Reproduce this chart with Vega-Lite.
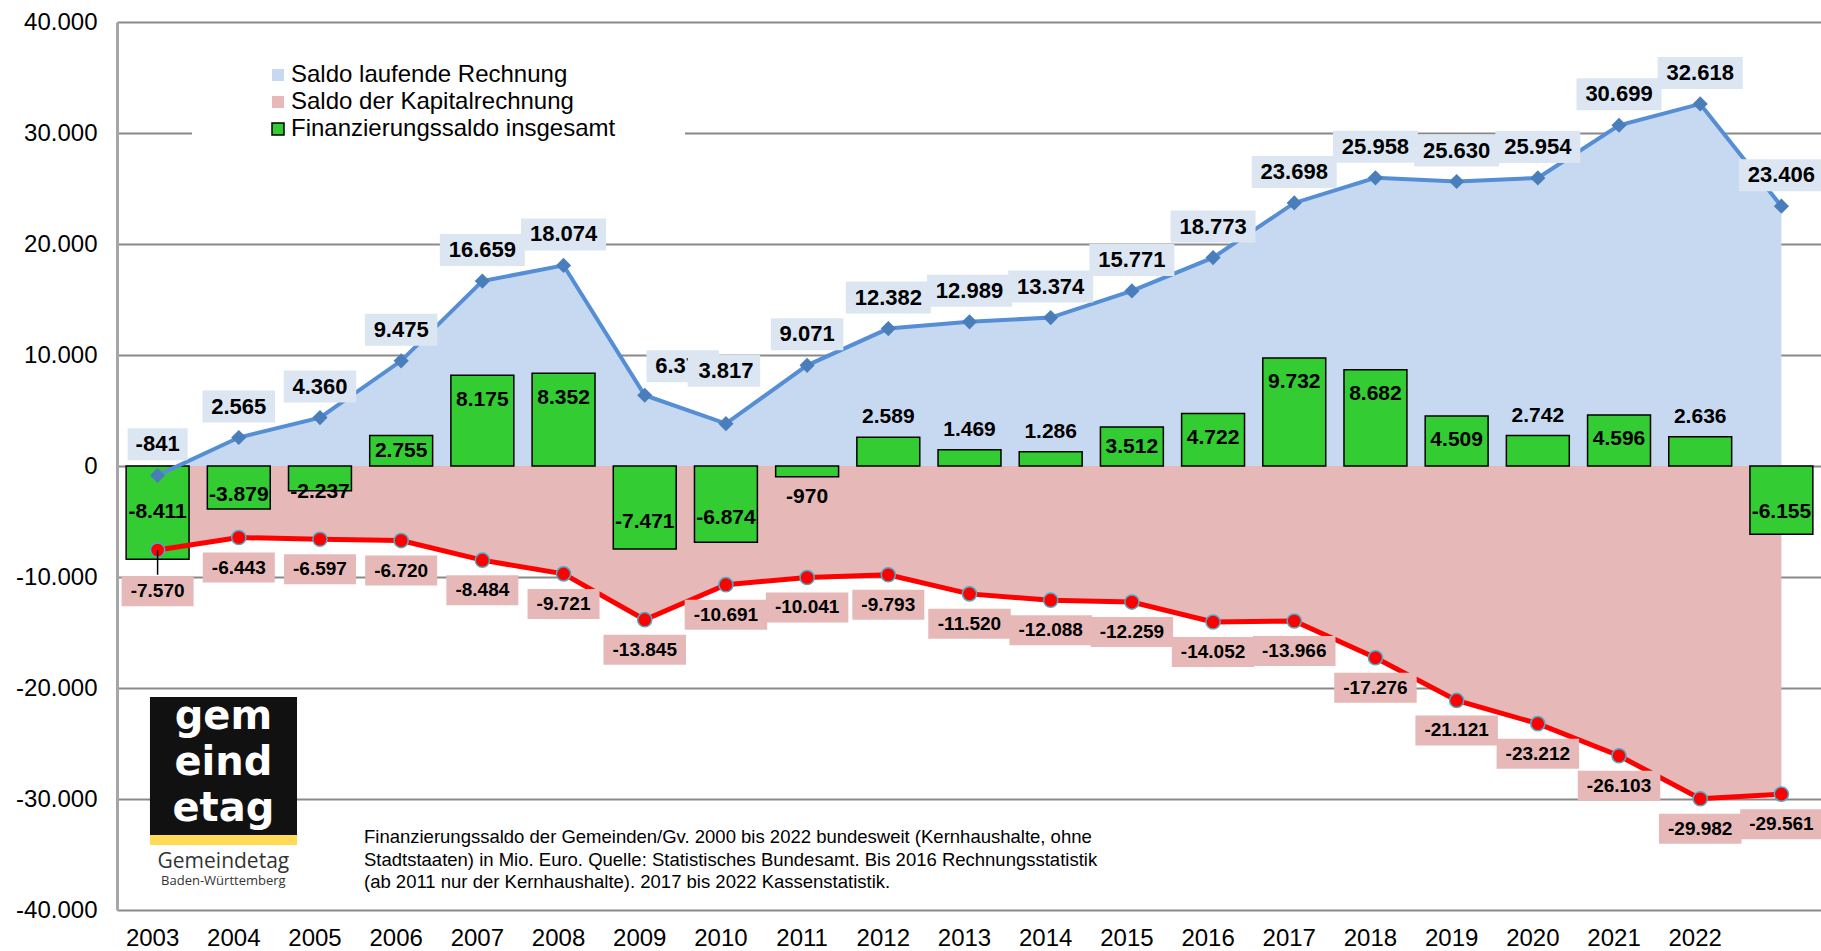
{
  "$schema": "https://vega.github.io/schema/vega-lite/v6.json",
  "width": 1705,
  "height": 888,
  "autosize": {"type": "none"},
  "padding": {"left": 117, "top": 22, "right": 0, "bottom": 41},
  "config": {
    "view": {"stroke": null},
    "font": "Liberation Sans"
  },
  "datasets": {
    "main": [
      {"year": "2003", "lauf": -841, "kap": -7570, "fin": -8411},
      {"year": "2004", "lauf": 2565, "kap": -6443, "fin": -3879},
      {"year": "2005", "lauf": 4360, "kap": -6597, "fin": -2237},
      {"year": "2006", "lauf": 9475, "kap": -6720, "fin": 2755},
      {"year": "2007", "lauf": 16659, "kap": -8484, "fin": 8175},
      {"year": "2008", "lauf": 18074, "kap": -9721, "fin": 8352},
      {"year": "2009", "lauf": 6374, "kap": -13845, "fin": -7471},
      {"year": "2010", "lauf": 3817, "kap": -10691, "fin": -6874},
      {"year": "2011", "lauf": 9071, "kap": -10041, "fin": -970},
      {"year": "2012", "lauf": 12382, "kap": -9793, "fin": 2589},
      {"year": "2013", "lauf": 12989, "kap": -11520, "fin": 1469},
      {"year": "2014", "lauf": 13374, "kap": -12088, "fin": 1286},
      {"year": "2015", "lauf": 15771, "kap": -12259, "fin": 3512},
      {"year": "2016", "lauf": 18773, "kap": -14052, "fin": 4722},
      {"year": "2017", "lauf": 23698, "kap": -13966, "fin": 9732},
      {"year": "2018", "lauf": 25958, "kap": -17276, "fin": 8682},
      {"year": "2019", "lauf": 25630, "kap": -21121, "fin": 4509},
      {"year": "2020", "lauf": 25954, "kap": -23212, "fin": 2742},
      {"year": "2021", "lauf": 30699, "kap": -26103, "fin": 4596},
      {"year": "2022", "lauf": 32618, "kap": -29982, "fin": 2636},
      {"year": "2023", "lauf": 23406, "kap": -29561, "fin": -6155}
    ]
  },
  "layer": [
    {
      "data": {"name": "main"},
      "transform": [
        {"calculate": "(datum.lauf < 0 ? '-' : '') + replace(format(abs(datum.lauf), ','), ',', '.')", "as": "lbL"},
        {"calculate": "(datum.kap < 0 ? '-' : '') + replace(format(abs(datum.kap), ','), ',', '.')", "as": "lbK"},
        {"calculate": "(datum.fin < 0 ? '-' : '') + replace(format(abs(datum.fin), ','), ',', '.')", "as": "lbF"},
        {"calculate": "length(datum.lbL)*12.5+10", "as": "wL"},
        {"calculate": "format(32/datum.wL, '.4f')", "as": "rL"},
        {"calculate": "'M-1,-'+datum.rL+'L1,-'+datum.rL+'L1,'+datum.rL+'L-1,'+datum.rL+'Z'", "as": "sL"},
        {"calculate": "datum.wL*datum.wL", "as": "zL"},
        {"calculate": "length(datum.lbK)*10.5+9", "as": "wK"},
        {"calculate": "format(30/datum.wK, '.4f')", "as": "rK"},
        {"calculate": "'M-1,-'+datum.rK+'L1,-'+datum.rK+'L1,'+datum.rK+'L-1,'+datum.rK+'Z'", "as": "sK"},
        {"calculate": "datum.wK*datum.wK", "as": "zK"},
        {"calculate": "datum.year == '2003' ? datum.kap - 1000 : datum.kap", "as": "ky"},
        {"calculate": "datum.fin >= 2750 ? max(datum.fin/2, datum.fin-2200) : (datum.fin > 0 ? datum.fin+1800 : (datum.fin > -1500 ? datum.fin-1800 : (datum.fin > -3000 ? datum.fin-100 : (datum.year == '2003' ? datum.fin*0.49 : datum.fin*0.68))))", "as": "fy"}
      ],
      "encoding": {
        "x": {
          "field": "year", "type": "ordinal",
          "scale": {"paddingInner": 0.225, "paddingOuter": 0.1125},
          "axis": {"orient": "bottom", "title": null, "domain": false, "ticks": false, "grid": false, "labelAngle": 0, "labelFontSize": 24, "labelColor": "black", "labelPadding": 16, "labelOffset": -5, "labelExpr": "datum.value == '2023' ? '' : datum.label"}
        }
      },
      "layer": [
        {
          "mark": {"type": "area", "opacity": 1},
          "encoding": {
            "y": {
              "field": "lauf", "type": "quantitative", "title": null,
              "scale": {"domain": [-40000, 40000], "nice": false},
              "axis": {"orient": "left", "title": null, "values": [-40000, -30000, -20000, -10000, 0, 10000, 20000, 30000, 40000], "labelExpr": "(datum.value < 0 ? '-' : '') + replace(format(abs(datum.value), ','), ',', '.')", "grid": true, "gridColor": "#898989", "gridWidth": 2, "domainColor": "#A6A6A6", "domainWidth": 3, "ticks": false, "labelFontSize": 24, "labelColor": "black", "labelPadding": 20}
            },
            "color": {
              "datum": "Saldo laufende Rechnung", "type": "nominal",
              "scale": {"domain": ["Saldo laufende Rechnung", "Saldo der Kapitalrechnung", "Finanzierungssaldo insgesamt"], "range": ["#C6D9F1", "#E6B9B8", "#33CC33"]},
              "legend": {
                "orient": "none", "legendX": 149, "legendY": 41, "title": null, "padding": 0,
                "symbolType": "square", "symbolSize": 144, "symbolOpacity": 1, "symbolStrokeWidth": 0,
                "labelFontSize": 24, "labelFont": "Liberation Sans", "labelColor": "black", "labelLimit": 600,
                "rowPadding": 3, "labelOffset": 1,
                "encode": {"symbols": {"update": {"stroke": {"signal": "datum.value === 'Finanzierungssaldo insgesamt' ? 'black' : 'transparent'"}, "strokeWidth": {"value": 1.5}}}}
              }
            }
          }
        },
        {
          "mark": {"type": "area", "opacity": 1},
          "encoding": {
            "y": {"field": "kap", "type": "quantitative", "title": null},
            "color": {"datum": "Saldo der Kapitalrechnung", "type": "nominal"}
          }
        },
        {
          "mark": {"type": "rule", "color": "#808080", "strokeWidth": 3.5},
          "encoding": {"y": {"datum": 0, "type": "quantitative"}}
        },
        {
          "mark": {"type": "bar", "stroke": "black", "strokeWidth": 1.5, "opacity": 1},
          "encoding": {
            "y": {"field": "fin", "type": "quantitative", "title": null},
            "color": {"datum": "Finanzierungssaldo insgesamt", "type": "nominal"}
          }
        },
        {
          "mark": {"type": "line", "color": "#558ED5", "strokeWidth": 4},
          "encoding": {"y": {"field": "lauf", "type": "quantitative", "title": null}}
        },
        {
          "mark": {"type": "point", "shape": "diamond", "size": 230, "filled": true, "color": "#4A7EBB", "opacity": 1},
          "encoding": {"y": {"field": "lauf", "type": "quantitative", "title": null}}
        },
        {
          "mark": {"type": "line", "color": "#FF0000", "strokeWidth": 5},
          "encoding": {"y": {"field": "kap", "type": "quantitative", "title": null}}
        },
        {
          "mark": {"type": "point", "shape": "circle", "size": 200, "filled": true, "fill": "#FF0000", "stroke": "#4BACC6", "strokeWidth": 1.5, "opacity": 1},
          "encoding": {"y": {"field": "kap", "type": "quantitative", "title": null}}
        },
        {
          "transform": [{"filter": "datum.year == '2003'"}],
          "mark": {"type": "rule", "color": "black", "strokeWidth": 1.5},
          "encoding": {"y": {"field": "kap", "type": "quantitative", "title": null}, "y2": {"datum": -9800}}
        },
        {
          "transform": [{"filter": "datum.year != '2009' && datum.year != '2010'"}],
          "mark": {"type": "point", "filled": true, "fill": "#DCE6F2", "opacity": 1, "strokeWidth": 0, "yOffset": -31},
          "encoding": {
            "y": {"field": "lauf", "type": "quantitative", "title": null},
            "shape": {"field": "sL", "type": "nominal", "scale": null},
            "size": {"field": "zL", "type": "quantitative", "scale": null}
          }
        },
        {
          "transform": [{"filter": "datum.year != '2009' && datum.year != '2010'"}],
          "mark": {"type": "text", "fontWeight": "bold", "fontSize": 22, "color": "black", "baseline": "middle", "yOffset": -31},
          "encoding": {
            "y": {"field": "lauf", "type": "quantitative", "title": null},
            "text": {"field": "lbL", "type": "nominal"}
          }
        },
        {
          "transform": [{"filter": "datum.year == '2009'"}],
          "mark": {"type": "point", "filled": true, "fill": "#DCE6F2", "opacity": 1, "strokeWidth": 0, "yOffset": -29, "xOffset": 38},
          "encoding": {
            "y": {"field": "lauf", "type": "quantitative", "title": null},
            "shape": {"field": "sL", "type": "nominal", "scale": null},
            "size": {"field": "zL", "type": "quantitative", "scale": null}
          }
        },
        {
          "transform": [{"filter": "datum.year == '2009'"}],
          "mark": {"type": "text", "fontWeight": "bold", "fontSize": 22, "color": "black", "baseline": "middle", "yOffset": -29, "xOffset": 38},
          "encoding": {
            "y": {"field": "lauf", "type": "quantitative", "title": null},
            "text": {"field": "lbL", "type": "nominal"}
          }
        },
        {
          "transform": [{"filter": "datum.year == '2010'"}],
          "mark": {"type": "point", "filled": true, "fill": "#DCE6F2", "opacity": 1, "strokeWidth": 0, "yOffset": -53, "xOffset": -2},
          "encoding": {
            "y": {"field": "lauf", "type": "quantitative", "title": null},
            "shape": {"field": "sL", "type": "nominal", "scale": null},
            "size": {"field": "zL", "type": "quantitative", "scale": null}
          }
        },
        {
          "transform": [{"filter": "datum.year == '2010'"}],
          "mark": {"type": "text", "fontWeight": "bold", "fontSize": 22, "color": "black", "baseline": "middle", "yOffset": -53},
          "encoding": {
            "y": {"field": "lauf", "type": "quantitative", "title": null},
            "text": {"field": "lbL", "type": "nominal"}
          }
        },
        {
          "mark": {"type": "point", "filled": true, "fill": "#E6B9B8", "opacity": 1, "strokeWidth": 0, "yOffset": 30},
          "encoding": {
            "y": {"field": "ky", "type": "quantitative", "title": null},
            "shape": {"field": "sK", "type": "nominal", "scale": null},
            "size": {"field": "zK", "type": "quantitative", "scale": null}
          }
        },
        {
          "mark": {"type": "text", "fontWeight": "bold", "fontSize": 19, "color": "black", "baseline": "middle", "yOffset": 30},
          "encoding": {
            "y": {"field": "ky", "type": "quantitative", "title": null},
            "text": {"field": "lbK", "type": "nominal"}
          }
        },
        {
          "mark": {"type": "text", "fontWeight": "bold", "fontSize": 21, "color": "black", "baseline": "middle"},
          "encoding": {
            "y": {"field": "fy", "type": "quantitative", "title": null},
            "text": {"field": "lbF", "type": "nominal"}
          }
        }
      ]
    },
    {
      "data": {"values": [{}]},
      "layer": [
        {
          "mark": {"type": "rect", "fill": "white"},
          "encoding": {
            "x": {"datum": 0.924, "type": "quantitative", "scale": {"domain": [0, 21], "nice": false, "zero": false}, "axis": null},
            "x2": {"datum": 6.996},
            "y": {"datum": 36757, "type": "quantitative"},
            "y2": {"datum": 28919}
          }
        },
        {
          "mark": {"type": "rect", "fill": "#111111"},
          "encoding": {
            "x": {"datum": 0.406, "type": "quantitative"},
            "x2": {"datum": 2.217},
            "y": {"datum": -20811, "type": "quantitative"},
            "y2": {"datum": -33243}
          }
        },
        {
          "mark": {"type": "text", "text": ["gem", "eind", "etag"], "font": "DejaVu Sans", "fontWeight": "bold", "fontSize": 40, "lineHeight": 46, "color": "white", "align": "center", "baseline": "alphabetic"},
          "encoding": {
            "x": {"datum": 1.31, "type": "quantitative"},
            "y": {"datum": -23700, "type": "quantitative"}
          }
        },
        {
          "mark": {"type": "rect", "fill": "#FFDA55"},
          "encoding": {
            "x": {"datum": 0.406, "type": "quantitative"},
            "x2": {"datum": 2.217},
            "y": {"datum": -33243, "type": "quantitative"},
            "y2": {"datum": -34144}
          }
        },
        {
          "mark": {"type": "text", "text": "Gemeindetag", "font": "Open Sans", "fontSize": 21, "color": "#333333", "align": "center", "baseline": "middle"},
          "encoding": {
            "x": {"datum": 1.31, "type": "quantitative"},
            "y": {"datum": -35676, "type": "quantitative"}
          }
        },
        {
          "mark": {"type": "text", "text": "Baden-Württemberg", "font": "Open Sans", "fontSize": 13, "color": "#333333", "align": "center", "baseline": "middle"},
          "encoding": {
            "x": {"datum": 1.31, "type": "quantitative"},
            "y": {"datum": -37387, "type": "quantitative"}
          }
        },
        {
          "mark": {
            "type": "text",
            "text": ["Finanzierungssaldo der Gemeinden/Gv. 2000 bis 2022 bundesweit (Kernhaushalte, ohne", "Stadtstaaten) in Mio. Euro. Quelle: Statistisches Bundesamt. Bis 2016 Rechnungsstatistik", "(ab 2011 nur der Kernhaushalte). 2017 bis 2022 Kassenstatistik."],
            "font": "Liberation Sans", "fontSize": 18.5, "lineHeight": 22.5, "color": "black", "align": "left", "baseline": "alphabetic"
          },
          "encoding": {
            "x": {"datum": 3.042, "type": "quantitative"},
            "y": {"datum": -33964, "type": "quantitative"}
          }
        }
      ]
    }
  ],
  "resolve": {"scale": {"x": "independent"}, "axis": {"x": "independent", "y": "shared"}}
}
